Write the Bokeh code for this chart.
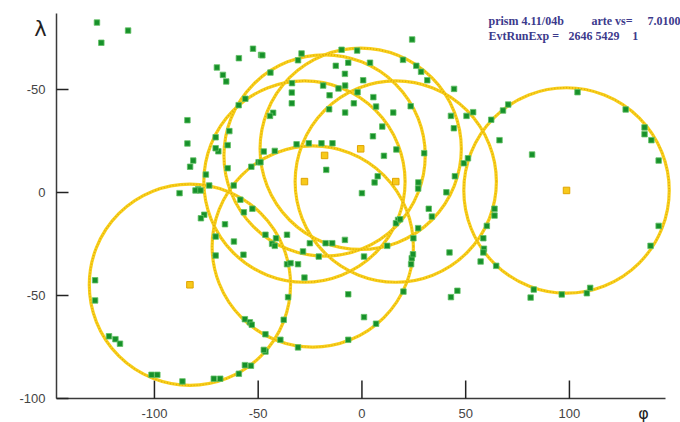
from bokeh.plotting import figure
from bokeh.models import Range1d
from bokeh.core.properties import value
from bokeh.embed import file_html
from bokeh.resources import INLINE

# ---- data ----
x_ticks = [-100, -50, 0, 50, 100]
x_tick_labels = ["-100", "-50", "0", "50", "100"]
y_ticks = [-100, -50, 0, 50]
y_tick_labels = ["-100", "-50", "0", "-50"]

x_lo, x_hi = -147.2, 146.3      # axis extent (phi)
y_lo, y_hi = -100.0, 86.9       # axis extent (lambda)

phi = [
    -127.7, -112.7, -125.6, -59.3, -52.5, -48.6, -69.9, -67.0, -65.4, -56.2, -59.4, -84.1, -63.9, -70.5, -64.7,
    -84.1, -69.2, -70.5, -81.3, -82.8, -64.7, -75.2, -53.3, -49.8, -61.8, -73.6, -78.9, -80.2, -77.8, -87.9, -58.6,
    24.2, -48.0, -29.1, -9.8, -2.3, -30.8, -44.1, -12.6, -6.6, 3.9, -8.2, -33.7, -18.7, -8.1, 0.6, 19.8, 26.2, 28.5,
    31.5, 44.4, -33.8, -33.8, -15.6, -11.3, -2.1, 5.5, -3.9, 6.8, -15.8, -8.1, 15.1, 23.5, -42.8, -44.3, 42.9, 44.3,
    9.8, 5.3, -47.3, -42.0, -25.6, -19.5, -14.2, -31.5, 16.6, 10.6, 30.0, -17.2, 7.6, 6.1, 27.2, 27.1, 44.8, 49.1,
    0.0, 40.7, -48.9,
    103.9, 127.1, 136.2, 136.2, 139.5, 143.0, 50.4, 53.6, 68.0, 70.5, 66.3, 82.0, 51.1, 62.3,
    -76.0, -77.6, -66.0, -70.5, -61.7, -70.5, -57.1, -56.9, -52.8, -128.6, -128.6, -121.9, -118.8, -116.6, -56.4,
    -54.0, -53.1, -56.4, -53.5, -101.4, -98.6, -86.5, -71.4, -68.3, -59.3,
    32.2, 33.7, 17.4, 16.4, 18.4, -46.5, -43.3, -42.0, -41.4, -36.1, -8.2, -14.3, -17.5, -28.4, -25.1, -20.8, 12.2,
    -36.1, -34.4, -30.8, -27.7, 24.0, 23.7, 27.1, 1.0, 42.2, 46.0, 42.9, -6.6, 1.0, 6.8, -35.6, -37.7, -46.5, -39.3,
    -6.6, -30.8, -46.5, -47.3, 20.0, 24.8, 24.6,
    63.9, 63.9, 60.2, 58.5, 58.8, 58.5, 57.2, 64.7, 82.8, 81.3, 96.3, 108.4, 110.0, 143.0, 139.1,
]
lam = [
    82.5, 78.6, 72.7, 65.2, 69.8, 66.8, 60.7, 57.1, 53.9, 45.5, 42.4, 35.1, 29.8, 26.8, 23.0,
    23.8, 20.0, 21.5, 15.5, 12.5, 11.8, 8.7, 12.5, 14.7, 3.4, 3.4, 1.6, 1.0, 1.0, -0.3, -3.5,
    74.3, 66.6, 67.5, 69.3, 68.9, 64.2, 58.2, 61.5, 63.0, 63.0, 57.6, 53.1, 51.9, 51.9, 54.5, 64.4, 61.5, 58.6,
    54.5, 50.3, 48.5, 43.3, 47.2, 50.5, 48.7, 46.3, 43.3, 41.7, 40.4, 38.8, 38.8, 41.9, 38.7, 37.2, 37.2, 31.2,
    32.0, 27.3, 19.9, 20.2, 23.9, 23.9, 23.9, 23.4, 20.9, 17.8, 19.1, 11.0, 7.9, 4.9, 4.9, 1.9, 7.9, 14.2,
    -0.3, 0.1, 14.7,
    48.7, 40.3, 31.6, 28.3, 25.4, 15.5, 37.2, 39.0, 39.8, 42.7, 25.4, 18.4, 16.6, 35.3,
    -10.8, -12.5, -15.4, -21.4, -23.8, -30.6, -30.2, -9.6, -7.9, -42.6, -52.4, -69.8, -71.2, -73.4, -61.5,
    -63.0, -64.2, -83.8, -84.1, -88.5, -88.5, -91.7, -90.4, -90.4, -88.0,
    -7.9, -11.7, -13.3, -14.9, -13.0, -20.5, -24.9, -25.9, -22.2, -20.5, -23.0, -24.6, -24.6, -28.6, -24.6, -31.1, -25.9,
    -34.8, -34.3, -34.8, -41.3, -31.9, -34.8, -17.3, -31.1, -29.1, -47.7, -50.8, -49.4, -60.5, -63.7, -50.8, -61.8, -68.8, -71.5,
    -71.5, -75.2, -77.2, -76.4, -48.1, -22.2, -30.0,
    -7.9, -11.2, -16.2, -22.2, -27.3, -29.1, -33.5, -35.6, -47.1, -51.0, -49.5, -48.9, -46.3, -16.2, -25.9,
]

ring_phi = [-0.6, -18.0, -27.7, 16.3, -82.9, 98.6, -23.7]
ring_lam = [21.2, 18.0, 5.3, 5.3, -44.8, 1.0, -26.2]
ring_r = [48.5, 48.5, 48.5, 48.5, 48.5, 49.5, 48.5]

center_phi = [-0.6, -18.0, -27.7, 16.3, -82.9, 98.6]
center_lam = [21.2, 18.0, 5.3, 5.3, -44.8, 1.0]

# ---- figure: the frame fills the whole canvas, axes drawn in data space ----
W, H = 680, 422
left, right, top, bottom = 56, 15, 13, 24
sx = (W - left - right) / (x_hi - x_lo)     # px per phi unit
sy = (H - top - bottom) / (y_hi - y_lo)     # px per lambda unit

p = figure(width=W, height=H, output_backend="svg", toolbar_location=None,
           x_range=Range1d(x_lo - left / sx, x_hi + right / sx),
           y_range=Range1d(y_lo - bottom / sy, y_hi + top / sy),
           x_axis_location=None, y_axis_location=None, min_border=0)
p.outline_line_color = None
p.xgrid.visible = False
p.ygrid.visible = False
p.background_fill_color = "white"
p.border_fill_color = "white"

axis_col = "#3a3a3a"
# axis lines
p.segment(x0=[x_lo, x_lo], y0=[y_lo, y_lo], x1=[x_hi, x_lo], y1=[y_lo, y_hi],
          line_color=axis_col, line_width=1.5)
# inward ticks
p.segment(x0=x_ticks, y0=[y_lo] * len(x_ticks), x1=x_ticks, y1=[y_lo + 18 / sy] * len(x_ticks),
          line_color="#222222", line_width=1.5)
p.segment(x0=[x_lo] * len(y_ticks), y0=y_ticks, x1=[x_lo + 12 / sx] * len(y_ticks), y1=y_ticks,
          line_color="#222222", line_width=1.5)
# tick labels
p.text(x=x_ticks, y=[y_lo - 15 / sy] * len(x_ticks), text=x_tick_labels,
       text_font=value("Liberation Sans"), text_font_size="13px", text_color="#444444",
       text_align="center", text_baseline="middle")
p.text(x=[x_lo - 11 / sx] * len(y_ticks), y=y_ticks, text=y_tick_labels,
       text_font=value("Liberation Sans"), text_font_size="13px", text_color="#444444",
       text_align="right", text_baseline="middle")

# rings
p.circle(ring_phi, ring_lam, radius=ring_r, fill_color=None,
         line_color="#f8cf1c", line_width=3.2)
p.circle(ring_phi, ring_lam, radius=ring_r, fill_color=None,
         line_color="#d9a200", line_width=1.4, line_dash="1 2", line_alpha=0.75)

# hits
p.scatter(phi, lam, marker="square", size=5.5, fill_color="#17912a",
          line_color="#62c064", line_width=0.8)

# ring centres
p.scatter(center_phi, center_lam, marker="square", size=6.5, fill_color="#f7c91a",
          line_color="#e0a400", line_width=1)

# axis names
p.text(x=[x_lo - 16 / sx], y=[y_hi - 15 / sy], text=["λ"], text_font=value("DejaVu Sans"),
       text_font_size="21px", text_color="#222222", text_align="center", text_baseline="middle")
p.text(x=[x_hi - 22 / sx], y=[y_lo - 15 / sy], text=["φ"], text_font=value("DejaVu Sans"),
       text_font_size="16px", text_color="#222222", text_align="center", text_baseline="middle")

# info box
info_x = [61.0, 110.6, 137.6, 61.0, 99.5, 130.3]
info_y = [83.2, 83.2, 83.2, 76.2, 76.2, 76.2]
info_t = ["prism 4.11/04b", "arte vs=", "7.0100", "EvtRunExp =", "2646 5429", "1"]
p.text(x=info_x, y=info_y, text=info_t, text_font=value("Liberation Serif"), text_font_style="bold",
       text_font_size="12px", text_color="#3c3a8c", text_align="left", text_baseline="middle")

open("out.html", "w").write(file_html(p, INLINE))
